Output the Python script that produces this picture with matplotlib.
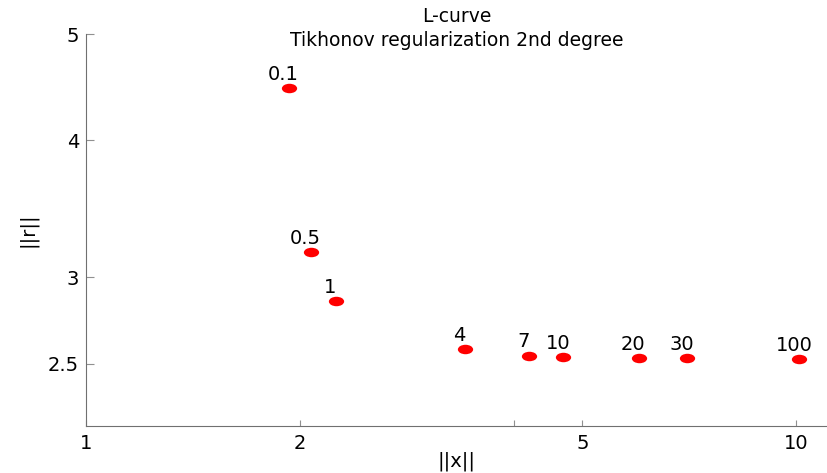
import numpy as np
import matplotlib.pyplot as plt
from matplotlib.path import Path
from matplotlib.transforms import Affine2D

# regularization parameters and their L-curve coordinates
lambdas = ['0.1', '0.5', '1', '4', '7', '10', '20', '30', '100']
x_norm = [1.932, 2.074, 2.250, 3.418, 4.207, 4.702, 6.003, 7.023, 10.11]
r_norm = [4.464, 3.162, 2.853, 2.579, 2.543, 2.535, 2.530, 2.530, 2.526]

xticks = [1, 2, 4, 5, 10]
xticklabels = ['1', '2', '', '5', '10']
yticks = [2.5, 3, 4, 5]
yticklabels = ['2.5', '3', '4', '5']

# flattened dot marker
dot = Path.unit_circle().transformed(Affine2D().scale(1.0, 0.62))

fig = plt.figure(figsize=(8.28, 4.73), dpi=100)
ax = fig.add_axes([86/828, 47/473, 742/828, 392/473])

ax.set_xscale('log')
ax.set_yscale('log')
ax.plot(x_norm, r_norm, linestyle='none', marker=dot, markersize=11,
        color='#ff0000', markeredgewidth=0)

for lab, xv, yv in zip(lambdas, x_norm, r_norm):
    ax.annotate(lab, (xv, yv), xytext=(-4, 10), textcoords='offset points',
                ha='center', va='center', fontsize=14)

ax.set_xlim(1, 11.09)
ax.set_ylim(2.194, 5)
ax.minorticks_off()
ax.set_xticks(xticks)
ax.set_xticklabels(xticklabels)
ax.set_yticks(yticks)
ax.set_yticklabels(yticklabels)
ax.tick_params(direction='in', length=6, color='#909090', labelsize=14, pad=5)
ax.tick_params(axis='x', length=4, pad=6)

for side in ['top', 'right']:
    ax.spines[side].set_visible(False)
for side in ['left', 'bottom']:
    ax.spines[side].set_color('#707070')

ax.set_xlabel('||x||', fontsize=14)
ax.set_ylabel('||r||', fontsize=14)
ax.xaxis.set_label_coords(0.5, -0.066)
ax.yaxis.set_label_coords(-0.066, 0.5)

fig.text(457/828, 1 - 16/473, 'L-curve', ha='center', va='center', fontsize=13.5)
fig.text(457/828, 1 - 40/473, 'Tikhonov regularization 2nd degree',
         ha='center', va='center', fontsize=13.5)

fig.savefig('out.png', dpi=100)
